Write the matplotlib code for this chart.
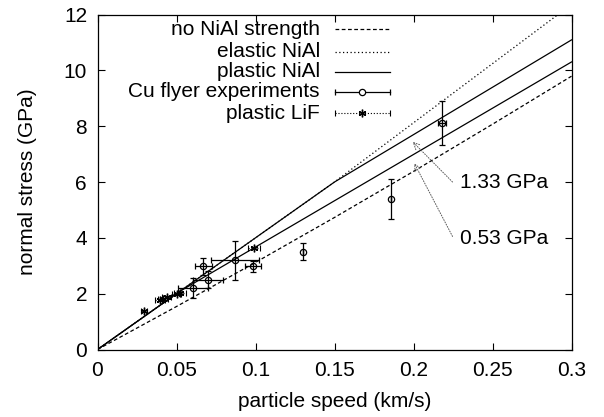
import matplotlib
matplotlib.use("Agg")
import matplotlib.pyplot as plt
from matplotlib.lines import Line2D

plt.rcParams['font.family'] = ['Liberation Sans', 'DejaVu Sans']

# ---- data ----
u_dash = [0.0, 0.05, 0.10, 0.15, 0.20, 0.25, 0.30]
s_dash = [0.0, 1.54, 3.12, 4.73, 6.38, 8.07, 9.79]

u_elastic = [0.0, 0.15, 0.2915]
s_elastic = [0.0, 6.0, 12.0]

u_plastic_hi = [0.0, 0.15, 0.30]
s_plastic_hi = [0.0, 6.0, 11.09]

u_plastic_lo = [0.0, 0.052, 0.30]
s_plastic_lo = [0.0, 2.08, 10.30]

u_cu = [0.0606, 0.0670, 0.0697, 0.0870, 0.0982, 0.1300, 0.1860, 0.2180]
s_cu = [2.20, 2.98, 2.50, 3.20, 2.98, 3.50, 5.39, 8.10]
uerr_cu = [0.0095, 0.0053, 0.0095, 0.0153, 0.0050, 0.0, 0.0, 0.0027]
serr_cu = [0.35, 0.30, 0.30, 0.70, 0.20, 0.31, 0.70, 0.79]

u_lif = [0.0296, 0.0396, 0.0416, 0.0438, 0.0501, 0.0523, 0.0990]
s_lif = [1.38, 1.78, 1.82, 1.88, 2.00, 2.02, 3.62]
uerr_lif = [0.002, 0.003, 0.003, 0.003, 0.003, 0.004, 0.004]

labels = ["no NiAl strength", "elastic NiAl", "plastic NiAl",
          "Cu flyer experiments", "plastic LiF"]
xticks = [0, 0.05, 0.1, 0.15, 0.2, 0.25, 0.3]
xticklabels = ["0", "0.05", "0.1", "0.15", "0.2", "0.25", "0.3"]
yticks = [0, 2, 4, 6, 8, 10, 12]

# ---- figure ----
fig = plt.figure(figsize=(6.04, 4.17), dpi=100)
ax = fig.add_axes([97.5/604, 67.5/417, 474/604, 335/417])

lw = 0.9
ax.plot(u_dash, s_dash, color='black', lw=lw, dashes=(3, 2))
ax.plot(u_elastic, s_elastic, color='black', lw=lw, dashes=(1, 2))
ax.plot(u_plastic_hi, s_plastic_hi, color='black', lw=lw)
ax.plot(u_plastic_lo, s_plastic_lo, color='black', lw=lw)

ax.errorbar(u_cu, s_cu, xerr=uerr_cu, yerr=serr_cu, fmt='o', color='black',
            mfc='none', mec='black', ms=4.5, mew=0.9, elinewidth=0.9,
            capsize=2.5, capthick=0.9)

eb = ax.errorbar(u_lif, s_lif, xerr=uerr_lif, fmt='none', ecolor='black',
                 elinewidth=0.8, capsize=2.0, capthick=0.8)
for c in eb[2]:
    c.set_linestyle(':')
ax.plot(u_lif, s_lif, linestyle='none', marker=(6, 2, 0), color='black',
        ms=5.5, mew=1.0)

# annotations
arrow = dict(arrowstyle='->', color='0.35', lw=0.7, linestyle=':',
             shrinkA=0, shrinkB=0, mutation_scale=12)
ax.annotate("", xy=(0.1995, 7.44), xytext=(0.2247, 6.0), arrowprops=arrow)
ax.annotate("", xy=(0.2005, 6.67), xytext=(0.2247, 4.05), arrowprops=arrow)
ax.text(0.2295, 5.97, "1.33 GPa", fontsize=15, ha='left', va='center')
ax.text(0.2295, 3.97, "0.53 GPa", fontsize=15, ha='left', va='center')

# axes styling
ax.set_xlim(0, 0.3)
ax.set_ylim(0, 12)
ax.set_xticks(xticks)
ax.set_xticklabels(xticklabels)
ax.set_yticks(yticks)
ax.tick_params(direction='in', length=5, width=0.8, top=True, right=True,
               labelsize=15)
ax.tick_params(axis='x', pad=8)
ax.tick_params(axis='y', pad=7.5)
for sp in ax.spines.values():
    sp.set_linewidth(0.9)
ax.set_xlabel("particle speed (km/s)", fontsize=15, labelpad=9)
ax.set_ylabel("normal stress (GPa)", fontsize=15, labelpad=19)

# gnuplot-style legend (text right-aligned, samples on the right)
x_text = 0.469
x0, x1 = 0.501, 0.617
rows = [0.956, 0.889, 0.829, 0.770, 0.705]
tr = ax.transAxes
for lab, y in zip(labels, rows):
    ax.text(x_text, y, lab, transform=tr, fontsize=15, ha='right', va='center')
ax.add_line(Line2D([x0, x1], [rows[0]]*2, transform=tr, color='black', lw=lw, dashes=(3, 2)))
ax.add_line(Line2D([x0, x1], [rows[1]]*2, transform=tr, color='black', lw=lw, dashes=(1, 2)))
ax.add_line(Line2D([x0, x1], [rows[2]]*2, transform=tr, color='black', lw=lw))
ax.add_line(Line2D([x0, x1], [rows[3]]*2, transform=tr, color='black', lw=lw))
ax.add_line(Line2D([x0, x1], [rows[3]]*2, transform=tr, color='black', lw=0,
                   marker='|', ms=5, mew=0.9))
ax.add_line(Line2D([(x0 + x1) / 2], [rows[3]], transform=tr, color='black',
                   marker='o', mfc='white', ms=4.5, mew=0.9))
ax.add_line(Line2D([x0, x1], [rows[4]]*2, transform=tr, color='black', lw=0.8, linestyle=':'))
ax.add_line(Line2D([x0, x1], [rows[4]]*2, transform=tr, color='black', lw=0,
                   marker='|', ms=5, mew=0.8))
ax.add_line(Line2D([(x0 + x1) / 2], [rows[4]], transform=tr, color='black',
                   marker=(6, 2, 0), ms=5.5, mew=1.0))

fig.savefig("out.png", dpi=100)
